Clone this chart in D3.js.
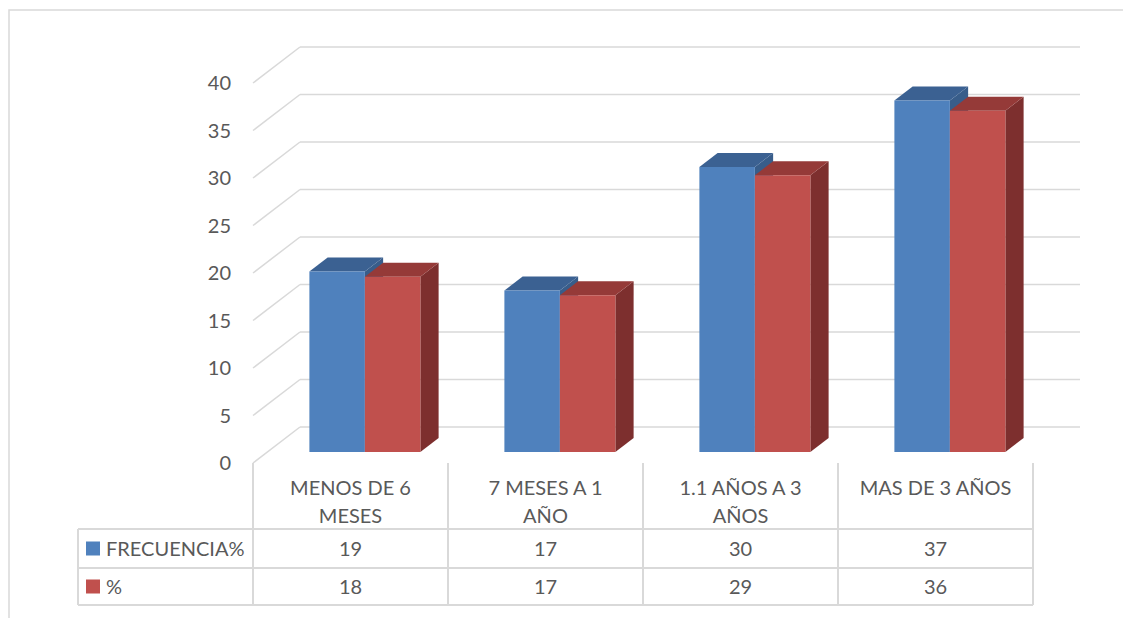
<!DOCTYPE html>
<html>
<head>
<meta charset="utf-8">
<script src="https://cdn.jsdelivr.net/npm/d3@7"></script>
<style>
  body { margin: 0; background: #fff; }
  text { font-family: Lato, "Open Sans", sans-serif; fill: #595959; }
</style>
</head>
<body>
<div id="chart"></div>
<script>
// data
var categories = ["MENOS DE 6 MESES", "7 MESES A 1 AÑO", "1.1 AÑOS A 3 AÑOS", "MAS DE 3 AÑOS"];
var catLines = [["MENOS DE 6", "MESES"], ["7 MESES A 1", "AÑO"], ["1.1 AÑOS A 3", "AÑOS"], ["MAS DE 3 AÑOS"]];
var seriesNames = ["FRECUENCIA%", "%"];
var frecuencia = [19, 17, 30, 37];
var porcentaje = [18.45, 16.50, 29.13, 35.92];
var yTicks = [0, 5, 10, 15, 20, 25, 30, 35, 40];

var colors = {
  front: ["#4F81BD", "#C0504D"],
  top:   ["#3B6192", "#953A38"],
  side:  ["#385D8A", "#7D2F2E"]
};
var gridColor = "#D9D9D9";

var W = 1123, H = 618;
var svg = d3.select("#chart").append("svg")
   .attr("width", W)
   .attr("height", H);

// outer chart border (continues off the right / bottom)
svg.append("rect")
   .attr("x", 9).attr("y", 10)
   .attr("width", W + 20).attr("height", H + 20)
   .attr("fill", "none")
   .attr("stroke", gridColor)
   .attr("stroke-width", 1.5);

// front plane scales
var x = d3.scaleBand()
   .domain(categories)
   .range([253, 1033])
   .padding(0);
var y = d3.scaleLinear()
   .domain([0, 40])
   .range([463, 83]);

var x1 = d3.scaleBand()
   .domain(seriesNames)
   .range([0, x.bandwidth()])
   .paddingInner(0)
   .paddingOuter(0.757);

// oblique depth of the whole box
var depthX = 47, depthY = -36;
function px(xf, t) { return xf + depthX * t; }
function py(v, t) { return y(v) + depthY * t; }

// walls: diagonal side lines + back lines
var grid = svg.append("g");
yTicks.forEach(function(v) {
   grid.append("line")
      .attr("x1", px(x.range()[0], 0)).attr("y1", py(v, 0))
      .attr("x2", px(x.range()[0], 1)).attr("y2", py(v, 1))
      .attr("stroke", gridColor).attr("stroke-width", 1.5);
   grid.append("line")
      .attr("x1", px(x.range()[0], 1)).attr("y1", py(v, 1))
      .attr("x2", px(x.range()[1], 1)).attr("y2", py(v, 1))
      .attr("stroke", gridColor).attr("stroke-width", 1.5);
});

// y labels
svg.append("g").selectAll("text")
   .data(yTicks)
   .enter().append("text")
   .attr("x", 231)
   .attr("y", function(d) { return y(d); })
   .attr("dy", "0.36em")
   .attr("text-anchor", "end")
   .style("font-size", "20px")
   .text(function(d) { return d; });

// bars
var t0 = 0.306, t1 = 0.694;
var barData = [];
categories.forEach(function(c, i) {
   barData.push({cat: c, s: 0, v: frecuencia[i]});
   barData.push({cat: c, s: 1, v: porcentaje[i]});
});

var bars = svg.append("g").selectAll("g.bar")
   .data(barData)
   .enter().append("g").attr("class", "bar");

function poly(pts) { return "M" + pts.map(function(p) { return p.join(","); }).join("L") + "Z"; }

bars.each(function(d) {
   var g = d3.select(this);
   var xl = x(d.cat) + x1(seriesNames[d.s]);
   var xr = xl + x1.bandwidth();
   // side
   g.append("path")
      .attr("d", poly([[px(xr, t0), py(0, t0)], [px(xr, t1), py(0, t1)], [px(xr, t1), py(d.v, t1)], [px(xr, t0), py(d.v, t0)]]))
      .attr("fill", colors.side[d.s]);
   // top
   g.append("path")
      .attr("d", poly([[px(xl, t0), py(d.v, t0)], [px(xr, t0), py(d.v, t0)], [px(xr, t1), py(d.v, t1)], [px(xl, t1), py(d.v, t1)]]))
      .attr("fill", colors.top[d.s]);
   // front
   g.append("path")
      .attr("d", poly([[px(xl, t0), py(0, t0)], [px(xr, t0), py(0, t0)], [px(xr, t0), py(d.v, t0)], [px(xl, t0), py(d.v, t0)]]))
      .attr("fill", colors.front[d.s]);
});

// data table
var tableLeft = 78, row1 = 529, row2 = 568, row3 = 605;
var tbl = svg.append("g");
[row1, row2, row3].forEach(function(yy) {
   tbl.append("line")
      .attr("x1", tableLeft).attr("x2", x.range()[1])
      .attr("y1", yy).attr("y2", yy)
      .attr("stroke", gridColor).attr("stroke-width", 2);
});
tbl.append("line")
   .attr("x1", tableLeft).attr("x2", tableLeft)
   .attr("y1", row1).attr("y2", row3)
   .attr("stroke", gridColor).attr("stroke-width", 2);
categories.concat([null]).forEach(function(c) {
   var xx = c === null ? x.range()[1] : x(c);
   tbl.append("line")
      .attr("x1", xx).attr("x2", xx)
      .attr("y1", 463).attr("y2", row3)
      .attr("stroke", gridColor).attr("stroke-width", 2);
});

// category labels
categories.forEach(function(c, i) {
   var t = tbl.append("text")
      .attr("x", x(c) + x.bandwidth() / 2)
      .attr("y", 495)
      .attr("text-anchor", "middle")
      .style("font-size", "20px");
   catLines[i].forEach(function(line, k) {
      t.append("tspan")
         .attr("x", x(c) + x.bandwidth() / 2)
         .attr("dy", k === 0 ? 0 : 28)
         .text(line);
   });
});

// legend keys + values
var rowsY = [(row1 + row2) / 2, (row2 + row3) / 2];
var fmt = d3.format(".0f");
[frecuencia, porcentaje].forEach(function(vals, s) {
   tbl.append("rect")
      .attr("x", 86).attr("y", rowsY[s] - 7)
      .attr("width", 14).attr("height", 14)
      .attr("fill", colors.front[s]);
   tbl.append("text")
      .attr("x", 106).attr("y", rowsY[s])
      .attr("dy", "0.36em")
      .style("font-size", "20px")
      .text(seriesNames[s]);
   categories.forEach(function(c, i) {
      tbl.append("text")
         .attr("x", x(c) + x.bandwidth() / 2)
         .attr("y", rowsY[s])
         .attr("dy", "0.36em")
         .attr("text-anchor", "middle")
         .style("font-size", "20px")
         .text(fmt(vals[i]));
   });
});
</script>
</body>
</html>
